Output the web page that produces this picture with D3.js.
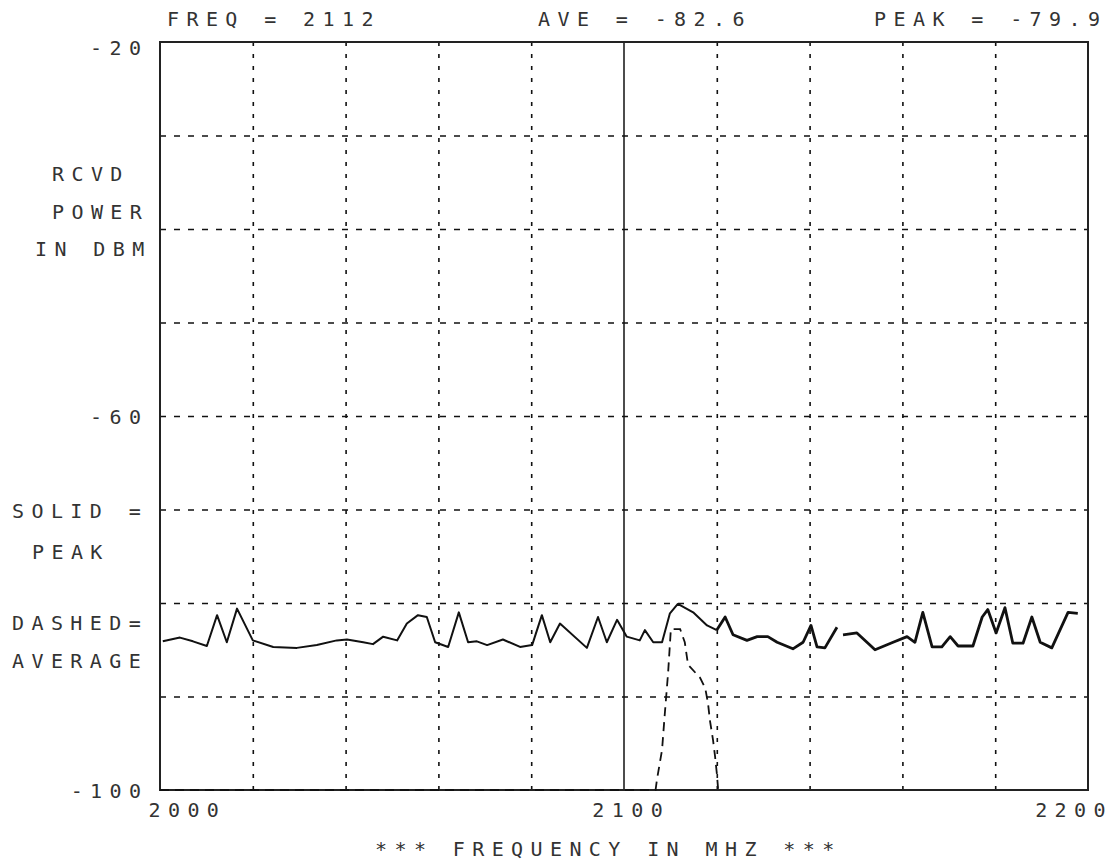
<!DOCTYPE html>
<html>
<head>
<meta charset="utf-8">
<script src="https://cdn.jsdelivr.net/npm/d3@7"></script>
<style>
  body { margin: 0; background: #fff; }
  text { font-family: "DejaVu Sans Mono", monospace; font-size: 20px; fill: #333; letter-spacing: 7.4px; }
</style>
</head>
<body>
<svg id="chart" width="1108" height="860"></svg>
<script>
// peak trace (solid)
const peakFreq = [2000.6, 2004.3, 2007.1, 2010.1, 2012.3, 2014.4, 2016.6, 2020.0, 2024.4, 2029.5,
  2033.8, 2038.1, 2040.3, 2043.8, 2045.9, 2048.1, 2051.1, 2053.2, 2055.6, 2057.5,
  2059.3, 2062.1, 2064.4, 2066.4, 2068.3, 2070.5, 2073.9, 2077.6, 2080.2, 2082.3,
  2084.1, 2086.2, 2092.0, 2094.4, 2096.3, 2098.5, 2100.6, 2103.4, 2104.5, 2106.3,
  2108.2, 2109.9, 2111.6, 2114.9, 2117.9, 2120.0, 2121.8, 2123.5, 2126.5, 2128.7,
  2131.0, 2133.0, 2136.4, 2138.6, 2140.3, 2141.6, 2143.3, 2145.9, 2146.5, 2147.2,
  2150.2, 2154.1, 2158.0, 2161.0, 2162.7, 2164.4, 2166.4, 2168.5, 2170.3, 2172.0,
  2175.2, 2177.2, 2178.4, 2180.2, 2182.1, 2183.8, 2186.0, 2187.9, 2189.7, 2192.2,
  2195.7, 2197.8];
const peakDbm = [-84.1, -83.7, -84.1, -84.6, -81.3, -84.2, -80.6, -84.0, -84.7, -84.8,
  -84.5, -84.0, -83.9, -84.2, -84.4, -83.6, -84.0, -82.2, -81.3, -81.5,
  -84.2, -84.7, -81.0, -84.2, -84.1, -84.5, -83.9, -84.7, -84.5, -81.3,
  -84.2, -82.2, -84.8, -81.5, -84.2, -81.8, -83.6, -84.0, -82.9, -84.2,
  -84.2, -81.1, -80.1, -81.0, -82.4, -82.9, -81.5, -83.4, -84.0, -83.6,
  -83.6, -84.2, -84.9, -84.2, -82.4, -84.7, -84.8, -82.6, null, -83.4,
  -83.2, -85.0, -84.2, -83.6, -84.2, -81.0, -84.7, -84.7, -83.6, -84.6,
  -84.6, -81.5, -80.7, -83.2, -80.5, -84.3, -84.3, -81.5, -84.2, -84.8,
  -81.0, -81.1];

// average trace (dashed), sits below the scale until ~2107
const aveFreq = [2000, 2106.8, 2107.1, 2108.2, 2108.8, 2109.5, 2110.1, 2112.1, 2113.1, 2113.8,
  2116.4, 2117.5, 2118.1, 2118.5, 2119.2, 2119.6, 2120.0, 2120.3];
const aveDbm = [-100, -100, -98.9, -95.7, -91.8, -87.5, -82.8, -82.8, -84.2, -86.6,
  -88.0, -89.1, -90.7, -92.5, -94.7, -96.3, -98.2, -100];

const yTicks = [-20, -60, -100];
const xTicks = [2000, 2100, 2200];
const xGrid = [2020, 2040, 2060, 2080, 2120, 2140, 2160, 2180];
const yGrid = [-30, -40, -50, -60, -70, -80, -90];

const svg = d3.select("#chart");
const plotL = 160, plotR = 1088, plotT = 42, plotB = 790;

const x = d3.scaleLinear().domain([2000, 2200]).range([plotL, plotR]);
const y = d3.scaleLinear().domain([-100, -20]).range([plotB, plotT]);

// letter spaced text without the trailing gap after the last letter
function spaceOut(sel) {
  sel.each(function() {
    const t = d3.select(this);
    const s = t.text();
    t.text(s.slice(0, -1));
    t.append("tspan").style("letter-spacing", "0px").text(s.slice(-1));
  });
}

function label(px, py, str, anchor) {
  svg.append("text")
    .attr("x", px).attr("y", py)
    .attr("text-anchor", anchor || "start")
    .text(str)
    .call(spaceOut);
}

// grid
svg.append("g")
  .attr("transform", "translate(0," + plotB + ")")
  .call(d3.axisBottom(x).tickValues(xGrid).tickSize(-(plotB - plotT)).tickFormat(""))
  .call(g => g.select(".domain").remove())
  .selectAll("line")
  .attr("stroke", "#111")
  .attr("stroke-width", 1.6)
  .attr("stroke-dasharray", "4,8");

svg.append("g")
  .attr("transform", "translate(" + plotL + ",0)")
  .call(d3.axisLeft(y).tickValues(yGrid).tickSize(-(plotR - plotL)).tickFormat(""))
  .call(g => g.select(".domain").remove())
  .selectAll("line")
  .attr("stroke", "#111")
  .attr("stroke-width", 1.4)
  .attr("stroke-dasharray", "6,8");

// solid centre line at 2100
svg.append("line")
  .attr("x1", x(2100)).attr("x2", x(2100))
  .attr("y1", plotT).attr("y2", plotB)
  .attr("stroke", "#111").attr("stroke-width", 1.5);

// frame
svg.append("rect")
  .attr("x", plotL).attr("y", plotT)
  .attr("width", plotR - plotL).attr("height", plotB - plotT)
  .attr("fill", "none").attr("stroke", "#222").attr("stroke-width", 2);

// tick labels
svg.append("g")
  .attr("transform", "translate(" + plotL + ",0)")
  .call(d3.axisLeft(y).tickValues(yTicks).tickSize(0).tickPadding(19).tickFormat(d => String(d)))
  .call(g => g.select(".domain").remove())
  .selectAll("text")
  .attr("fill", "#333")
  .style("font-size", null)
  .attr("dy", (d, i) => i === 0 ? "0.62em" : "0.36em")
  .call(spaceOut);

svg.append("g")
  .attr("transform", "translate(0," + plotB + ")")
  .call(d3.axisBottom(x).tickValues(xTicks).tickSize(0).tickPadding(13).tickFormat(d => String(d)))
  .call(g => g.select(".domain").remove())
  .selectAll("text")
  .attr("fill", "#333")
  .style("font-size", null)
  .attr("text-anchor", (d, i) => i === 0 ? "start" : (i === 2 ? "end" : "middle"))
  .attr("dx", (d, i) => i === 0 ? -12 : (i === 2 ? 17 : 3))
  .call(spaceOut);

// traces
const peakPts = peakFreq.map((f, i) => [f, peakDbm[i]]);
const avePts = aveFreq.map((f, i) => [f, aveDbm[i]]);

const line = d3.line()
  .defined(d => d[1] !== null)
  .x(d => x(d[0]))
  .y(d => y(d[1]));

svg.append("path")
  .datum(peakPts.filter(d => d[0] <= 2121))
  .attr("d", line)
  .attr("fill", "none").attr("stroke", "#111").attr("stroke-width", 2)
  .attr("stroke-linejoin", "round");

svg.append("path")
  .datum(peakPts.filter(d => d[0] >= 2120))
  .attr("d", line)
  .attr("fill", "none").attr("stroke", "#111").attr("stroke-width", 2.8)
  .attr("stroke-linejoin", "round");

svg.append("path")
  .datum(avePts)
  .attr("d", line)
  .attr("fill", "none").attr("stroke", "#111").attr("stroke-width", 1.8)
  .attr("stroke-dasharray", "9,6");

// header and side notes
label(167, 26, "FREQ = 2112");
label(538, 26, "AVE = -82.6");
label(1100, 26, "PEAK = -79.9", "end");

label(52, 181, "RCVD");
label(52, 219, "POWER");
label(35, 256, "IN DBM");

label(12, 518, "SOLID =");
label(32, 559, "PEAK");
label(12, 630, "DASHED=");
label(12, 668, "AVERAGE");

label(375, 856, "*** FREQUENCY IN MHZ ***");
</script>
</body>
</html>
